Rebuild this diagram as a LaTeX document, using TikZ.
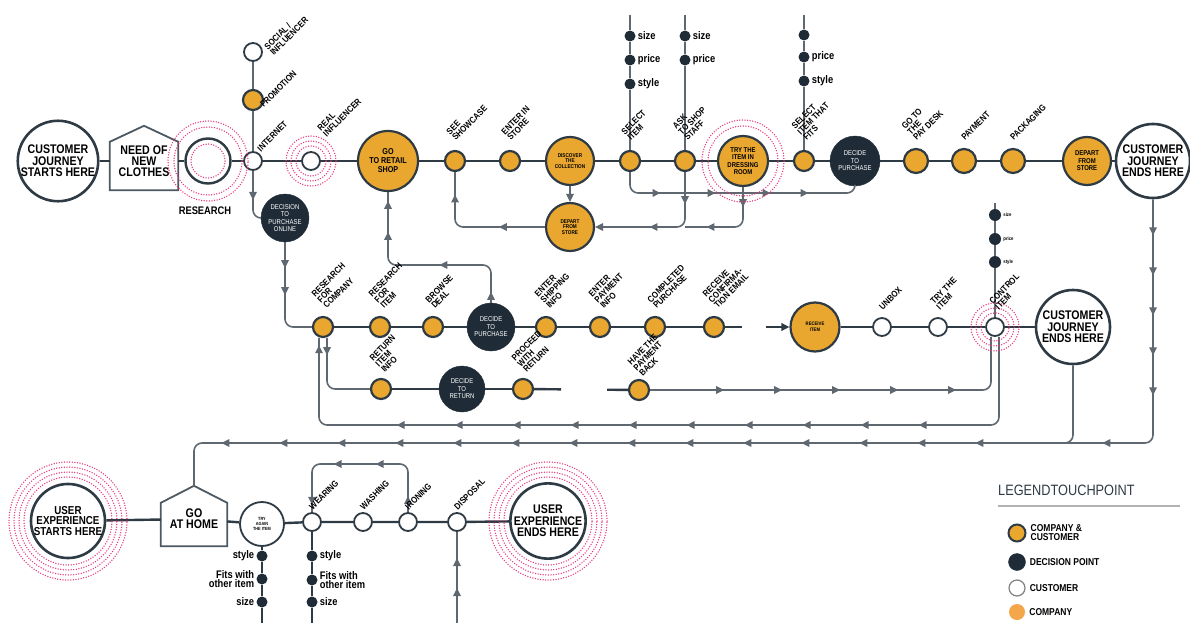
\documentclass[tikz,border=0pt]{standalone}
\usepackage{fontspec}
\setmainfont{Liberation Sans}
\newfontfamily\cond[FakeStretch=0.85]{Liberation Sans}
\usetikzlibrary{arrows.meta,decorations.markings}

\definecolor{ink}{HTML}{2E3A44}
\definecolor{navy}{HTML}{1F2C37}
\definecolor{amber}{HTML}{E9A730}
\definecolor{peach}{HTML}{F3A64A}
\definecolor{flowgray}{HTML}{5F6870}
\definecolor{hotpink}{HTML}{E6397F}

\tikzset{
  mainline/.style={draw=ink, line width=2.4pt},
  stem/.style={draw=flowgray, line width=1.6pt},
  flow/.style={draw=flowgray, line width=1.6pt, rounded corners=8pt, postaction=decorate, decoration={markings}},
  flowtip/.style={decoration={mark=at position #1 with {\arrow{>}}}},
  flowrun/.style args={#1:#2:#3}{decoration={mark=between positions #1 and #2 step #3 with {\arrow{>}}}},
  cocust/.style={circle, fill=amber, draw=ink, line width=2.2pt, inner sep=0pt, minimum size=#1, align=center, font=\cond\bfseries\fontsize{5.5}{5.5}\selectfont},
  cocust/.default=20pt,
  decision/.style={circle, fill=navy, draw=navy, inner sep=0pt, minimum size=#1, align=center, text=white, font=\cond\fontsize{7}{7.5}\selectfont},
  decision/.default=48pt,
  cust/.style={circle, fill=white, draw=ink, line width=1.8pt, inner sep=0pt, minimum size=#1, align=center},
  cust/.default=18pt,
  terminal/.style={circle, fill=white, draw=ink, line width=2.6pt, inner sep=0pt, minimum size=#1, align=center, font=\cond\bfseries\fontsize{12.5}{11.5}\selectfont},
  terminal/.default=74pt,
  hut/.style={inner sep=0pt, minimum width=68pt, align=center, font=\cond\bfseries\fontsize{12.5}{11}\selectfont},
  hutline/.style={draw=ink!85, line width=1.8pt, line join=miter},
  ring/.style={draw=hotpink, line width=1.5pt, dash pattern=on 0pt off 2.6pt, line cap=round},
  dot/.style={circle, fill=navy, inner sep=0pt, minimum size=#1},
  dot/.default=11pt,
  dotlbl/.style={font=\cond\bfseries\fontsize{11}{9.5}\selectfont, inner sep=2pt, align=left},
  lbl/.style={rotate=45, anchor=south west, align=left, inner sep=0.5pt, font=\cond\bfseries\fontsize{9}{8.2}\selectfont},
  leglbl/.style={font=\cond\bfseries\fontsize{10}{9}\selectfont, inner sep=4pt, align=left},
}

\begin{document}
\begin{tikzpicture}[x=1pt, y=-1pt, >={Triangle[length=8pt,width=7.5pt]}]
\useasboundingbox (0,0) rectangle (1190,623);

% first journey: in store
\node[terminal] (start1) at (58,161) {CUSTOMER\\JOURNEY\\STARTS HERE};
\node[hut, minimum height=58pt] (need) at (144,161) {NEED OF\\NEW\\CLOTHES};
\draw[hutline] (need.south west) -- ([yshift=-10pt]need.north west) -- ([yshift=6pt]need.north) -- ([yshift=-10pt]need.north east) -- (need.south east) -- cycle;
\node[cust=45pt, line width=2.4pt] (research) at (208,161) {};
\node[font=\cond\bfseries\fontsize{11}{11}\selectfont] (l-research) at (205,211) {RESEARCH};
\node[cust] (internet) at (253,161) {};
\node[cocust] (promo) at (253,100) {};
\node[cust] (social) at (253,52) {};
\node[cust] (realinf) at (311,161) {};
\node[cocust=60pt, font=\cond\bfseries\fontsize{8.5}{9}\selectfont] (retail) at (388,161) {GO\\TO RETAIL\\SHOP};
\node[cocust] (showcase) at (455,161) {};
\node[cocust] (instore) at (510,161) {};
\node[cocust=48pt] (discover) at (570,161) {DISCOVER\\THE\\COLLECTION};
\node[cocust] (selitem) at (630,161) {};
\node[cocust] (askstaff) at (685,161) {};
\node[cocust=50pt, font=\cond\bfseries\fontsize{7}{7.5}\selectfont] (tryroom) at (743,161) {TRY THE\\ITEM IN\\DRESSING\\ROOM};
\node[cocust] (selfit) at (804,161) {};
\node[decision=50pt] (decide1) at (855,161) {DECIDE\\TO\\PURCHASE};
\node[cocust=24pt] (paydesk) at (916,161) {};
\node[cocust=24pt] (payment) at (964,161) {};
\node[cocust=24pt] (packaging) at (1013,161) {};
\node[cocust=48pt, font=\cond\bfseries\fontsize{7}{7.5}\selectfont] (depart1) at (1087,161) {DEPART\\FROM\\STORE};
\node[terminal] (end1) at (1153,161) {CUSTOMER\\JOURNEY\\ENDS HERE};
\node[cocust=48pt] (depart2) at (570,227) {DEPART\\FROM\\STORE};

\draw[mainline] (start1) -- (need) -- (research) -- (internet) -- (realinf) -- (retail) -- (showcase) -- (instore) -- (discover) -- (selitem) -- (askstaff) -- (tryroom) -- (selfit) -- (decide1) -- (paydesk) -- (payment) -- (packaging) -- (depart1) -- (end1);
\draw[stem] (internet) -- (promo) -- (social);

% what the customer looks at
\coordinate (selitem-top) at (630,15);
\node[dot, label={[dotlbl]right:size}] (selitem-a) at (630,36) {};
\node[dot, label={[dotlbl]right:price}] (selitem-b) at (630,60) {};
\node[dot, label={[dotlbl]right:style}] (selitem-c) at (630,84) {};
\draw[stem] (selitem-top) -- (selitem-a) -- (selitem-b) -- (selitem-c) -- (selitem);
\coordinate (askstaff-top) at (685,15);
\node[dot, label={[dotlbl]right:size}] (askstaff-a) at (685,36) {};
\node[dot, label={[dotlbl]right:price}] (askstaff-b) at (685,60) {};
\draw[stem] (askstaff-top) -- (askstaff-a) -- (askstaff-b) -- (askstaff);
\coordinate (selfit-top) at (804,15);
\node[dot] (selfit-a) at (804,35) {};
\node[dot, label={[dotlbl]right:price}] (selfit-b) at (804,57) {};
\node[dot, label={[dotlbl]right:style}] (selfit-c) at (804,81) {};
\draw[stem] (selfit-top) -- (selfit-a) -- (selfit-b) -- (selfit-c) -- (selfit);

% loops under the store line
\coordinate (fitrun) at (740,193);
\coordinate (staffjoin) at (685,227);
\draw[flow, ->] (discover) -- (depart2);
\draw[flow, flowtip=46pt, flowtip=119pt] (depart2) -| (showcase);
\draw[flow, ->, flowtip=32pt, flowtip=87pt] (askstaff) |- (depart2);
\draw[flow, flowtip=20pt, flowtip=73pt] (tryroom) |- (staffjoin);
\draw[flow, flowtip=48pt, flowtip=103pt, flowtip=158pt, flowtip=196pt] (selitem) |- (fitrun) -| (decide1);

% second journey: online
\node[decision=48pt] (online) at (285,218) {DECISION\\TO\\PURCHASE\\ONLINE};
\node[cocust] (rescomp) at (323,327) {};
\node[cocust] (resitem) at (380,327) {};
\node[cocust] (browse) at (433,327) {};
\node[decision=48pt] (decide2) at (491,327) {DECIDE\\TO\\PURCHASE};
\node[cocust] (shipping) at (546,327) {};
\node[cocust] (payinfo) at (600,327) {};
\node[cocust] (completed) at (655,327) {};
\node[cocust] (confemail) at (714,327) {};
\node[cocust=49pt, font=\cond\bfseries\fontsize{5}{5.5}\selectfont] (receive) at (815,327) {RECEIVE\\ITEM};
\node[cust] (unbox) at (882,327) {};
\node[cust] (tryitem) at (938,327) {};
\node[cust] (control) at (995,327) {};
\node[terminal] (end2) at (1073,327) {CUSTOMER\\JOURNEY\\ENDS HERE};
\draw[mainline] (rescomp) -- (resitem) -- (browse) -- (decide2) -- (shipping) -- (payinfo) -- (completed) -- (confemail);
\draw[mainline, ->, dash pattern=on 17pt off 24pt on 200pt] (confemail) -- (receive);
\draw[mainline] (receive) -- (unbox) -- (tryitem) -- (control) -- (end2);

\coordinate (control-top) at (995,203);
\node[dot=12pt, label={[dotlbl, font=\cond\bfseries\fontsize{5}{5}\selectfont]right:size}] (control-a) at (995,215) {};
\node[dot=12pt, label={[dotlbl, font=\cond\bfseries\fontsize{5}{5}\selectfont]right:price}] (control-b) at (995,239) {};
\node[dot=12pt, label={[dotlbl, font=\cond\bfseries\fontsize{5}{5}\selectfont]right:style}] (control-c) at (995,262) {};
\draw[stem] (control-top) -- (control-a) -- (control-b) -- (control-c) -- (control);

% returns
\node[cocust] (retinfo) at (381,389) {};
\node[decision=46pt] (decide3) at (462,389) {DECIDE\\TO\\RETURN};
\node[cocust] (proceed) at (523,389) {};
\node[cocust] (payback) at (639,390) {};
\draw[mainline] (retinfo) -- (decide3) -- (proceed);
\draw[mainline, dash pattern=on 27pt off 46pt on 200pt] (proceed) -- (payback);

\coordinate (shoprun) at (440,265);
\coordinate (back425) at (660,425);
\coordinate (back443) at (660,443);
\coordinate (merge2) at (1040,443);
\draw[flow, flowtip=29pt] (internet) |- (online);
\draw[flow, flowtip=26pt, flowtip=53pt] (online) |- (rescomp);
\draw[flow, flowtip=11pt, flowtip=86pt, flowtip=167pt, flowtip=198pt] (decide2) |- (shoprun) -| (retail);
\draw[flow, flowtip=17pt] ([xshift=4pt]rescomp.south) |- (retinfo);
\draw[flow, flowrun=74pt:320pt:58pt] (payback) -| ([xshift=-4pt]control.south);
\draw[flow, flowrun=165pt:690pt:58pt, flowtip=841pt] ([xshift=4pt]control.south) |- (back425) -| ([xshift=-4pt]rescomp.south);

% at home
\node[terminal=70pt, font=\cond\bfseries\fontsize{11.5}{10.5}\selectfont] (start3) at (68,521) {USER\\EXPERIENCE\\STARTS HERE};
\node[hut, minimum width=66pt, minimum height=54pt] (home) at (194,519) {GO\\AT HOME};
\draw[hutline] (home.south west) -- ([yshift=-11pt]home.north west) -- ([yshift=6pt]home.north) -- ([yshift=-11pt]home.north east) -- (home.south east) -- cycle;
\coordinate (homepeak) at ([yshift=6pt]home.north);
\node[cust=44pt, font=\cond\bfseries\fontsize{4.5}{4.8}\selectfont] (tryagain) at (262,524) {TRY\\AGAIN\\THE ITEM};
\node[cust] (wearing) at (312,522) {};
\node[cust] (washing) at (363,522) {};
\node[cust] (ironing) at (408,522) {};
\node[cust] (disposal) at (457,522) {};
\node[terminal] (end3) at (548,521) {USER\\EXPERIENCE\\ENDS HERE};
\draw[mainline] (start3) -- (home) -- (tryagain) -- (wearing) -- (washing) -- (ironing) -- (disposal) -- (end3);

\draw[flow, flowrun=36pt:200pt:40pt, flowtip=291pt, flowrun=418pt:1180pt:58pt] (end1) |- (back443) -| (homepeak);
\draw[flow] (end2) |- (merge2);

\coordinate (washrun) at (360,464);
\draw[flow, flowtip=16pt, flowtip=77pt, flowtip=119pt, flowtip=178pt] (ironing) |- (washrun) -| (wearing);
\coordinate (disposal-bot) at (457,623);
\draw[flow, flowtip=35pt, flowtip=65pt] (disposal-bot) -- (disposal);

\coordinate (tryagain-bot) at (262,623);
\node[dot, label={[dotlbl]left:style}] (tryagain-a) at (262,556) {};
\node[dot, label={[dotlbl, align=right]left:Fits with\\other item}] (tryagain-b) at (262,579) {};
\node[dot, label={[dotlbl]left:size}] (tryagain-c) at (262,602) {};
\draw[mainline, line width=1.8pt] (tryagain) -- (tryagain-a) -- (tryagain-b) -- (tryagain-c) -- (tryagain-bot);
\coordinate (wearing-bot) at (312,623);
\node[dot, label={[dotlbl]right:style}] (wearing-a) at (312,556) {};
\node[dot, label={[dotlbl]right:Fits with\\other item}] (wearing-b) at (312,580) {};
\node[dot, label={[dotlbl]right:size}] (wearing-c) at (312,602) {};
\draw[mainline, line width=1.8pt] (wearing) -- (wearing-a) -- (wearing-b) -- (wearing-c) -- (wearing-bot);

% pink touch point rings
\draw[ring] (research) circle[radius=17pt] (research) circle[radius=34pt] (research) circle[radius=40pt];
\draw[ring] (realinf) circle[radius=15pt] (realinf) circle[radius=20pt] (realinf) circle[radius=25pt];
\draw[ring] (tryroom) circle[radius=35pt] (tryroom) circle[radius=41pt];
\draw[ring] (control) circle[radius=14pt] (control) circle[radius=19pt] (control) circle[radius=24pt];
\draw[ring] (start3) circle[radius=44pt] (start3) circle[radius=49pt] (start3) circle[radius=54pt] (start3) circle[radius=59pt];
\draw[ring] (end3) circle[radius=44pt] (end3) circle[radius=49pt] (end3) circle[radius=54pt] (end3) circle[radius=59pt];

% step labels
\node[lbl] (l-internet) at ([shift={(1pt,1pt)}]internet.north east) {INTERNET};
\node[lbl] (l-social) at ([shift={(14pt,2pt)}]social.south east) {SOCIAL /\\INFLUENCER};
\node[lbl] (l-promo) at ([shift={(3pt,-1pt)}]promo.south east) {PROMOTION};
\node[lbl] (l-realinf) at ([shift={(16pt,13pt)}]realinf.north) {REAL\\INFLUENCER};
\node[lbl] (l-showcase) at ([shift={(1pt,8pt)}]showcase.north) {SEE\\SHOWCASE};
\node[lbl] (l-instore) at ([shift={(1pt,8pt)}]instore.north) {ENTER IN\\STORE};
\node[lbl] (l-selitem) at ([shift={(1pt,8pt)}]selitem.north) {SELECT\\ITEM};
\node[lbl] (l-askstaff) at ([shift={(3pt,8pt)}]askstaff.north) {ASK\\TO SHOP\\STAFF};
\node[lbl] (l-selfit) at ([shift={(3pt,8pt)}]selfit.north) {SELECT\\ITEM THAT\\FITS};
\node[lbl] (l-paydesk) at ([shift={(1pt,6pt)}]paydesk.north) {GO TO\\THE\\PAY DESK};
\node[lbl] (l-payment) at ([shift={(1pt,6pt)}]payment.north) {PAYMENT};
\node[lbl] (l-packaging) at ([shift={(1pt,6pt)}]packaging.north) {PACKAGING};
\node[lbl] (l-rescomp) at ([shift={(4pt,6pt)}]rescomp.north) {RESEARCH\\FOR\\COMPANY};
\node[lbl] (l-resitem) at ([shift={(4pt,6pt)}]resitem.north) {RESEARCH\\FOR\\ITEM};
\node[lbl] (l-browse) at ([shift={(2pt,6pt)}]browse.north) {BROWSE\\DEAL};
\node[lbl] (l-shipping) at ([shift={(4pt,6pt)}]shipping.north) {ENTER\\SHIPPING\\INFO};
\node[lbl] (l-payinfo) at ([shift={(4pt,6pt)}]payinfo.north) {ENTER\\PAYMENT\\INFO};
\node[lbl] (l-completed) at ([shift={(2pt,6pt)}]completed.north) {COMPLETED\\PURCHASE};
\node[lbl] (l-confemail) at ([shift={(4pt,6pt)}]confemail.north) {RECEIVE\\CONFIRMA-\\TION EMAIL};
\node[lbl] (l-unbox) at ([shift={(1pt,6pt)}]unbox.north) {UNBOX};
\node[lbl] (l-tryitem) at ([shift={(2pt,6pt)}]tryitem.north) {TRY THE\\ITEM};
\node[lbl] (l-control) at ([shift={(4pt,6pt)}]control.north) {CONTROL\\ITEM};
\node[lbl] (l-retinfo) at ([shift={(4pt,4pt)}]retinfo.north) {RETURN\\ITEM\\INFO};
\node[lbl] (l-proceed) at ([shift={(4pt,4pt)}]proceed.north) {PROCEED\\WITH\\RETURN};
\node[lbl] (l-payback) at ([shift={(4pt,1pt)}]payback.north) {HAVE THE\\PAYMENT\\BACK};
\node[lbl] (l-wearing) at ([shift={(1pt,1pt)}]wearing.north) {WEARING};
\node[lbl] (l-washing) at ([shift={(1pt,1pt)}]washing.north) {WASHING};
\node[lbl] (l-ironing) at ([shift={(1pt,1pt)}]ironing.north) {IRONING};
\node[lbl] (l-disposal) at ([shift={(1pt,1pt)}]disposal.north) {DISPOSAL};

% legend
\node[anchor=west, inner sep=0pt, text=ink, font=\cond\fontsize{15}{15}\selectfont] (leg-title) at (998,490) {LEGENDTOUCHPOINT};
\coordinate (leg-end) at (1180,506);
\draw[draw=gray!60, line width=2pt] (leg-title.south west |- leg-end) -- (leg-end);
\node[cocust=17pt, line width=2pt, label={[leglbl]right:COMPANY \&\\CUSTOMER}] (leg-both) at (1017,533) {};
\node[decision=17pt, label={[leglbl]right:DECISION POINT}] (leg-decision) at (1017,562) {};
\node[cust=16pt, line width=1.2pt, draw=gray, label={[leglbl]right:CUSTOMER}] (leg-cust) at (1017,588) {};
\node[circle, fill=peach, inner sep=0pt, minimum size=16pt, label={[leglbl]right:COMPANY}] (leg-company) at (1017,612) {};
\end{tikzpicture}
\end{document}
